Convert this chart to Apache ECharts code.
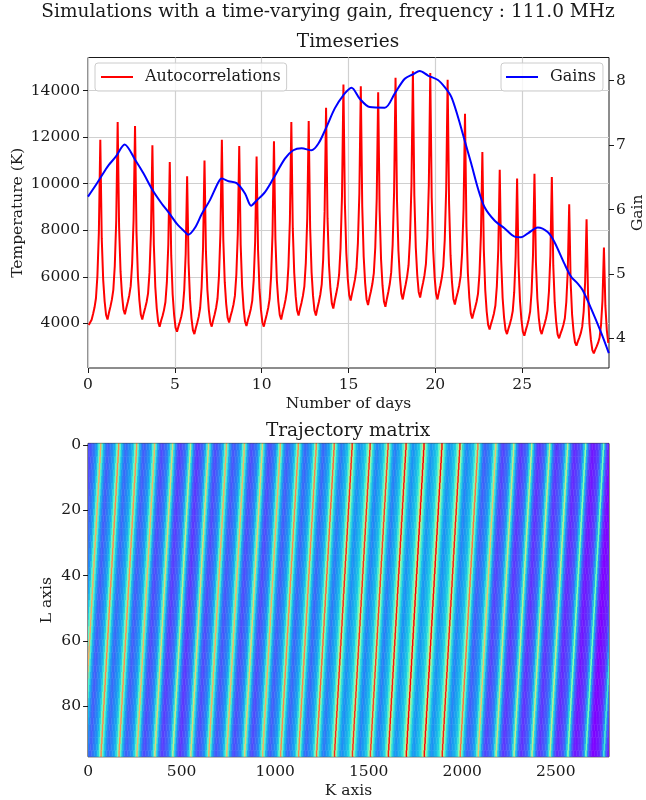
<!DOCTYPE html>
<html>
<head>
<meta charset="utf-8">
<script src="https://cdn.jsdelivr.net/npm/echarts@6/dist/echarts.min.js"></script>
<style>
  html, body { margin: 0; padding: 0; background: #fff; }
  #chart { width: 646px; height: 800px; }
</style>
</head>
<body>
<div id="chart"></div>
<script>
// autocorrelation (K), 12 samples per day, every 2 h starting at 1 h
var samplesPerDay = 12
var autocorr = [
    3930, 3880, 4160, 4400, 4680, 5080, 6040, 7890, 11890, 7640, 5870, 4940,
    4360, 4170, 4470, 4720, 5020, 5440, 6460, 8410, 12650, 8110, 6210, 5220,
    4600, 4390, 4670, 4920, 5200, 5600, 6570, 8440, 12480, 7910, 6000, 5000,
    4380, 4170, 4430, 4660, 4920, 5290, 6190, 7910, 11650, 7370, 5570, 4640,
    4060, 3860, 4110, 4320, 4570, 4920, 5770, 7400, 10930, 6920, 5240, 4370,
    3820, 3640, 3870, 4070, 4310, 4640, 5440, 6980, 10320, 6590, 5030, 4220,
    3710, 3540, 3800, 4030, 4290, 4660, 5550, 7270, 11000, 7070, 5430, 4570,
    4040, 3860, 4140, 4380, 4660, 5070, 6030, 7880, 11890, 7570, 5770, 4830,
    4240, 4040, 4310, 4530, 4800, 5180, 6090, 7830, 11620, 7370, 5590, 4660,
    4080, 3890, 4150, 4360, 4620, 4980, 5860, 7530, 11170, 7150, 5470, 4590,
    4040, 3860, 4140, 4380, 4660, 5050, 6010, 7840, 11820, 7610, 5850, 4940,
    4360, 4170, 4470, 4720, 5020, 5440, 6460, 8410, 12650, 8080, 6170, 5170,
    4550, 4340, 4630, 4880, 5180, 5590, 6600, 8520, 12690, 8100, 6180, 5180,
    4550, 4340, 4650, 4920, 5230, 5680, 6750, 8800, 13260, 8520, 6540, 5500,
    4860, 4640, 4980, 5270, 5600, 6080, 7240, 9450, 14260, 9160, 7020, 5910,
    5210, 4980, 5300, 5580, 5900, 6360, 7460, 9580, 14180, 9020, 6860, 5730,
    5030, 4790, 5110, 5380, 5700, 6160, 7260, 9360, 13930, 8860, 6740, 5630,
    4940, 4710, 5050, 5350, 5690, 6190, 7370, 9630, 14550, 9310, 7120, 5980,
    5270, 5030, 5370, 5670, 6010, 6500, 7680, 9930, 14830, 9480, 7250, 6080,
    5350, 5110, 5450, 5740, 6070, 6560, 7710, 9930, 14750, 9400, 7170, 6000,
    5270, 5030, 5360, 5640, 5970, 6450, 7580, 9750, 14460, 9150, 6930, 5780,
    5050, 4810, 5100, 5340, 5630, 6040, 7020, 8910, 13000, 8170, 6140, 5090,
    4430, 4210, 4460, 4680, 4930, 5280, 6140, 7790, 11360, 7170, 5420, 4500,
    3930, 3740, 3980, 4190, 4430, 4770, 5590, 7170, 10600, 6720, 5090, 4250,
    3720, 3540, 3770, 3970, 4210, 4540, 5340, 6880, 10220, 6510, 4960, 4150,
    3640, 3470, 3710, 3920, 4170, 4510, 5350, 6950, 10430, 6640, 5060, 4230,
    3710, 3540, 3780, 3980, 4220, 4550, 5360, 6920, 10290, 6480, 4890, 4050,
    3530, 3360, 3560, 3730, 3940, 4220, 4920, 6240, 9120, 5780, 4380, 3650,
    3190, 3040, 3230, 3390, 3580, 3860, 4510, 5760, 8470, 5300, 3980, 3290,
    2850, 2710, 2870, 3010, 3170, 3390, 3940, 4990, 7260, 4750, 3700, 3160
]
// gain curve (right axis)
var gainDays = [0, 0.5, 0.99, 1.19, 1.6, 2.11, 2.72, 3.2, 3.68, 4.25, 4.63, 5.11, 5.59, 5.78,
    6.17, 6.55, 7.03, 7.5, 7.7, 8.1, 8.56, 9.04, 9.39, 9.71, 10.19, 10.67, 11.34, 11.82,
    12.3, 12.87, 13.26, 13.73, 14.21, 14.69, 15.17, 15.65, 16.22, 17.09, 17.66, 18.24,
    18.72, 19.1, 19.58, 20.15, 20.54, 20.92, 21.3, 21.69, 22.07, 22.45, 22.83, 23.41,
    23.98, 24.56, 24.94, 25.33, 25.9, 26.47, 26.85, 27.43, 27.81, 28.2, 28.48, 28.96,
    29.53, 29.99]
var gainValues = [6.20, 6.40, 6.61, 6.69, 6.82, 7.01, 6.77, 6.56, 6.32, 6.09, 5.96, 5.78, 5.65, 5.61,
    5.72, 5.93, 6.15, 6.42, 6.48, 6.44, 6.41, 6.25, 6.06, 6.14, 6.27, 6.48, 6.79, 6.92,
    6.95, 6.92, 7.02, 7.28, 7.57, 7.77, 7.89, 7.72, 7.59, 7.58, 7.80, 8.03,
    8.10, 8.15, 8.08, 8.01, 7.90, 7.75, 7.44, 7.07, 6.71, 6.33, 6.04, 5.83,
    5.71, 5.58, 5.57, 5.63, 5.72, 5.65, 5.50, 5.16, 4.96, 4.85, 4.75, 4.47,
    4.10, 3.77]
// tick labels
var dayTicks = [0, 5, 10, 15, 20, 25]
var tempTicks = [4000, 6000, 8000, 10000, 12000, 14000]
var gainTicks = [4, 5, 6, 7, 8]
var kTicks = [0, 500, 1000, 1500, 2000, 2500]
var lTicks = [0, 20, 40, 60, 80]
// trajectory matrix: window L = 96 original samples, one coarse sample = 8 original
var windowL = 96
var step = 8
var rowStep = 2 // drawn rows per band

var font = 'DejaVu Serif'
var ink = '#1a1a1a'
// matplotlib "rainbow"
var rainbow = ['#8000ff', '#4d4ffc', '#1a96f2', '#1acee3', '#4df2ce', '#80ffb4',
    '#b3f296', '#e6ce74', '#ff964f', '#ff4f28', '#ff0000']

var tempLine = autocorr.map((v, k) => [(k + 0.5) / samplesPerDay, v])
var gainLine = gainDays.map((d, i) => [d, gainValues[i]])

// hankel matrix M[l][K] = x[K + l], built from the timeseries
var kMax = autocorr.length * step - windowL // 2784
var cells = []
for (var l = 0; l < windowL; l += rowStep) {
    for (var m = 0; m < autocorr.length; m++) {
        var k0 = m * step - l
        if (k0 + step <= 0 || k0 > kMax) continue
        cells.push([k0, l, autocorr[m]])
    }
}
var vmin = Math.min.apply(null, autocorr)
var vmax = Math.max.apply(null, autocorr)

function renderCell(params, api) {
    var k = api.value(0), l = api.value(1)
    var p0 = api.coord([k - 0.5, l - 0.5])
    var p1 = api.coord([k + step - 0.5, l + rowStep - 0.5])
    var shape = echarts.graphic.clipRectByRect({
        x: p0[0], y: p0[1], width: p1[0] - p0[0] + 0.4, height: p1[1] - p0[1] + 0.4
    }, {
        x: params.coordSys.x, y: params.coordSys.y,
        width: params.coordSys.width, height: params.coordSys.height
    })
    return shape && {
        type: 'rect',
        shape: shape,
        style: { fill: api.visual('color') }
    }
}

function axisText(size) {
    return { fontFamily: font, fontSize: size || 15.5, color: ink }
}
function plain(v) {
    return String(v)
}
var tick = { show: true, length: 5, lineStyle: { color: ink, width: 1 } }
var titleText = { fontFamily: font, fontSize: 18.5, fontWeight: 'normal', color: ink }

var option = {
    animation: false,
    backgroundColor: '#fff',
    textStyle: { fontFamily: font },
    title: [
        { text: 'Simulations with a time-varying gain, frequency : 111.0 MHz', left: 328, top: 3, padding: 0, textAlign: 'center', textStyle: titleText },
        { text: 'Timeseries', left: 348, top: 33, padding: 0, textAlign: 'center', textStyle: titleText },
        { text: 'Trajectory matrix', left: 348, top: 422, padding: 0, textAlign: 'center', textStyle: titleText }
    ],
    legend: [
        {
            data: ['Autocorrelations'], left: 95, top: 63, icon: 'rect', itemWidth: 32, itemHeight: 2,
            padding: [6, 6, 6, 6], backgroundColor: 'rgba(255,255,255,0.8)', borderColor: '#cccccc', borderWidth: 1, borderRadius: 3,
            textStyle: { fontFamily: font, fontSize: 16, color: ink, padding: [0, 0, 0, 7] }
        },
        {
            data: ['Gains'], left: 501, top: 63, icon: 'rect', itemWidth: 32, itemHeight: 2,
            padding: [6, 7, 6, 5], backgroundColor: 'rgba(255,255,255,0.8)', borderColor: '#cccccc', borderWidth: 1, borderRadius: 3,
            textStyle: { fontFamily: font, fontSize: 16, color: ink, padding: [0, 0, 0, 7] }
        }
    ],
    grid: [
        { left: 88, top: 57.5, width: 521, height: 310.5, outerBoundsMode: 'none', show: true, borderColor: ink, borderWidth: 1, backgroundColor: 'transparent' },
        { left: 88, top: 443.4, width: 521, height: 313.4, outerBoundsMode: 'none', show: true, borderColor: ink, borderWidth: 1, backgroundColor: 'transparent' }
    ],
    xAxis: [
        {
            gridIndex: 0, type: 'value', min: 0, max: 30,
            name: 'Number of days', nameLocation: 'middle', nameGap: 28, nameMoveOverlap: false, nameTextStyle: axisText(),
            axisLine: { show: false },
            axisTick: Object.assign({ customValues: dayTicks }, tick),
            axisLabel: Object.assign({ customValues: dayTicks, margin: 9, formatter: plain }, axisText()),
            splitLine: { show: true, lineStyle: { color: '#d0d0d0', width: 1.2 } }
        },
        {
            gridIndex: 1, type: 'value', min: -0.5, max: kMax + 0.5,
            name: 'K axis', nameLocation: 'middle', nameGap: 26, nameMoveOverlap: false, nameTextStyle: axisText(),
            axisLine: { show: false },
            axisTick: Object.assign({ customValues: kTicks }, tick),
            axisLabel: Object.assign({ customValues: kTicks, margin: 7, formatter: plain }, axisText()),
            splitLine: { show: false }
        }
    ],
    yAxis: [
        {
            gridIndex: 0, type: 'value', min: 2084, max: 15420, position: 'left',
            name: 'Temperature (K)', nameLocation: 'middle', nameGap: 62, nameMoveOverlap: false, nameTextStyle: axisText(),
            axisLine: { show: false },
            axisTick: Object.assign({ customValues: tempTicks }, tick),
            axisLabel: Object.assign({ customValues: tempTicks, margin: 8, formatter: plain }, axisText()),
            splitLine: { show: true, lineStyle: { color: '#d0d0d0', width: 1.2 } }
        },
        {
            gridIndex: 0, type: 'value', min: 3.54, max: 8.36, position: 'right',
            name: 'Gain', nameLocation: 'middle', nameGap: 21, nameRotate: 90, nameMoveOverlap: false, nameTextStyle: axisText(),
            axisLine: { show: false },
            axisTick: Object.assign({ customValues: gainTicks }, tick),
            axisLabel: Object.assign({ customValues: gainTicks, margin: 7, formatter: plain }, axisText()),
            splitLine: { show: false }
        },
        {
            gridIndex: 1, type: 'value', min: -0.5, max: windowL - 0.5, inverse: true,
            name: 'L axis', nameLocation: 'middle', nameGap: 33, nameMoveOverlap: false, nameTextStyle: axisText(),
            axisLine: { show: false },
            axisTick: Object.assign({ customValues: lTicks }, tick),
            axisLabel: Object.assign({ customValues: lTicks, margin: 7, formatter: plain }, axisText()),
            splitLine: { show: false }
        }
    ],
    visualMap: {
        show: false, type: 'continuous', seriesIndex: 2, dimension: 2,
        min: vmin, max: vmax, inRange: { color: rainbow }
    },
    series: [
        {
            name: 'Autocorrelations', type: 'line', xAxisIndex: 0, yAxisIndex: 0,
            data: tempLine, showSymbol: false, symbol: 'none',
            color: '#ff0000', lineStyle: { color: '#ff0000', width: 2 }, z: 2
        },
        {
            name: 'Gains', type: 'line', xAxisIndex: 0, yAxisIndex: 1,
            data: gainLine, showSymbol: false, symbol: 'none', smooth: 0.3,
            color: '#0000ff', lineStyle: { color: '#0000ff', width: 2 }, z: 3
        },
        {
            name: 'matrix', type: 'custom', xAxisIndex: 1, yAxisIndex: 2,
            data: cells, encode: { x: 0, y: 1 }, renderItem: renderCell, z: 1,
            progressive: 0, progressiveThreshold: 1000000
        }
    ]
}

var chart = echarts.init(document.getElementById('chart'), null, { renderer: 'canvas' })
chart.setOption(option)
</script>
</body>
</html>
